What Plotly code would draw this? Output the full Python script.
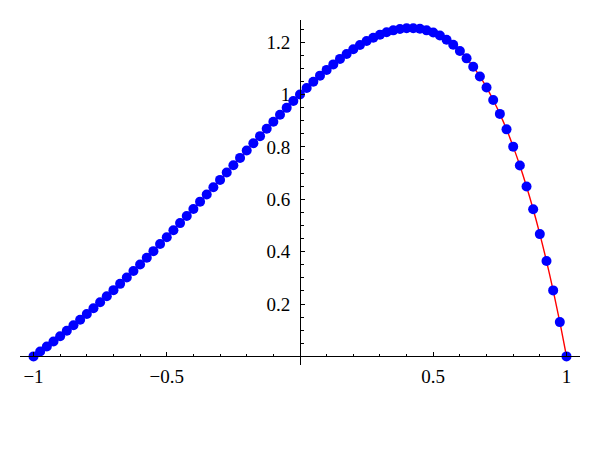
import plotly.graph_objects as go

# sample positions
x_values = [
    -1.0, -0.975, -0.95, -0.925, -0.9, -0.875, -0.85, -0.825, -0.8, -0.775,
    -0.75, -0.725, -0.7, -0.675, -0.65, -0.625, -0.6, -0.575, -0.55, -0.525,
    -0.5, -0.475, -0.45, -0.425, -0.4, -0.375, -0.35, -0.325, -0.3, -0.275,
    -0.25, -0.225, -0.2, -0.175, -0.15, -0.125, -0.1, -0.075, -0.05, -0.025,
    0.0, 0.025, 0.05, 0.075, 0.1, 0.125, 0.15, 0.175, 0.2, 0.225,
    0.25, 0.275, 0.3, 0.325, 0.35, 0.375, 0.4, 0.425, 0.45, 0.475,
    0.5, 0.525, 0.55, 0.575, 0.6, 0.625, 0.65, 0.675, 0.7, 0.725,
    0.75, 0.775, 0.8, 0.825, 0.85, 0.875, 0.9, 0.925, 0.95, 0.975, 1.0,
]

# values
y_values = [
    0.0, 0.019, 0.038, 0.057, 0.077, 0.098, 0.119, 0.140, 0.162, 0.184,
    0.207, 0.230, 0.253, 0.277, 0.301, 0.326, 0.351, 0.377, 0.402, 0.429,
    0.455, 0.482, 0.509, 0.536, 0.563, 0.591, 0.618, 0.646, 0.674, 0.702,
    0.730, 0.758, 0.786, 0.814, 0.841, 0.869, 0.896, 0.923, 0.949, 0.975,
    1.000, 1.025, 1.049, 1.072, 1.094, 1.115, 1.136, 1.155, 1.173, 1.189,
    1.204, 1.217, 1.228, 1.238, 1.245, 1.250, 1.253, 1.253, 1.251, 1.245,
    1.237, 1.225, 1.209, 1.190, 1.166, 1.138, 1.106, 1.069, 1.027, 0.979,
    0.926, 0.867, 0.801, 0.729, 0.649, 0.562, 0.467, 0.364, 0.252, 0.131, 0.0,
]

x_tick_vals = [-1, -0.5, 0.5, 1]
x_tick_text = ["\u22121", "\u22120.5", "0.5", "1"]
y_tick_vals = [0.2, 0.4, 0.6, 0.8, 1.0, 1.2]
y_tick_text = ["0.2", "0.4", "0.6", "0.8", "1", "1.2"]

W, H = 600, 467
OFF = 8  # page body margin in the browser


def px_x(p):
    return (p - OFF) / W


def px_y(p):
    return (H - (p - OFF)) / H


fig = go.Figure()
fig.add_trace(go.Scatter(
    x=x_values, y=y_values, mode="lines",
    line=dict(color="rgb(255,0,0)", width=1.4, shape="spline"),
    hoverinfo="skip", showlegend=False,
))
fig.add_trace(go.Scatter(
    x=x_values, y=y_values, mode="markers",
    marker=dict(color="rgb(0,0,255)", size=10, line=dict(width=0)),
    showlegend=False,
))

font = dict(family="Liberation Serif", size=19, color="black")

fig.update_layout(
    width=W, height=H,
    margin=dict(l=0, r=0, t=0, b=0),
    paper_bgcolor="white", plot_bgcolor="white",
    font=font,
    xaxis=dict(
        domain=[px_x(20), px_x(580)],
        range=[-1.0507, 1.0507],
        anchor="free", position=px_y(356.4),
        showgrid=False, zeroline=False,
        showline=True, linecolor="black", linewidth=1,
        tickmode="array", tickvals=x_tick_vals, ticktext=x_tick_text,
        ticks="inside", ticklen=4, tickcolor="black", tickwidth=1,
        ticklabelstandoff=3,
        minor=dict(tickmode="linear", tick0=0, dtick=0.1, ticks="inside",
                   ticklen=2.5, tickcolor="black", tickwidth=1, showgrid=False),
        tickfont=font,
    ),
    yaxis=dict(
        domain=[px_y(365), px_y(20)],
        range=[-0.0328, 1.2845],
        anchor="free", position=px_x(300),
        showgrid=False, zeroline=False,
        showline=True, linecolor="black", linewidth=1,
        tickmode="array", tickvals=y_tick_vals, ticktext=y_tick_text,
        ticks="inside", ticklen=4, tickcolor="black", tickwidth=1,
        ticklabelstandoff=6,
        minor=dict(tickmode="linear", tick0=0, dtick=0.05, ticks="inside",
                   ticklen=2.5, tickcolor="black", tickwidth=1, showgrid=False),
        tickfont=font,
    ),
)

fig.write_html("out.html")
